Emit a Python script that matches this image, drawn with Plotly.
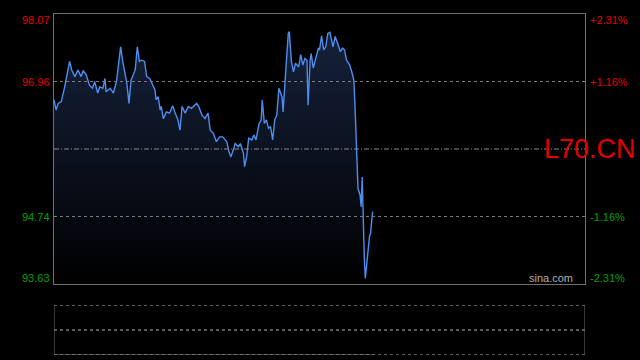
import plotly.graph_objects as go

# time in minutes since the open (full session = 510 minutes)
minutes = [0, 2, 4, 7, 10, 13, 15, 17, 20, 23, 26, 28, 31, 34, 37, 39, 42, 44, 47, 49,
           50, 54, 57, 60, 62, 64, 66, 70, 72, 74, 78, 80, 82, 84, 87, 89, 92, 95, 97, 98,
           100, 102, 103, 105, 108, 111, 114, 116, 119, 121, 123, 126, 129, 132, 135, 137, 139, 142, 145, 148,
           150, 153, 156, 159, 162, 166, 168, 170, 174, 177, 179, 182, 183, 185, 187, 190, 192, 194, 197, 199,
           200, 202, 204, 206, 208, 210, 212, 214, 216, 219, 220, 223, 225, 226, 228, 230, 232, 235, 237, 239,
           241, 243, 244, 246, 247, 249, 252, 254, 255, 257, 259, 261, 263, 265, 268, 270, 272, 275, 277, 279,
           281, 284, 286, 288, 289, 290, 291, 292, 294, 295, 296, 297, 298, 299, 301, 303, 304, 306]
prices = [96.66, 96.49, 96.60, 96.63, 96.85, 97.12, 97.29, 97.15, 97.04, 97.15, 97.04, 97.14, 97.07, 96.90, 96.85, 96.96, 96.77, 96.87, 96.85, 97.01,
          96.79, 96.85, 96.77, 96.96, 97.26, 97.53, 97.29, 96.93, 96.60, 96.98, 97.15, 97.53, 97.29, 97.31, 97.29, 97.04, 97.01, 96.90, 96.82, 96.66,
          96.71, 96.49, 96.55, 96.35, 96.46, 96.44, 96.56, 96.46, 96.33, 96.16, 96.55, 96.44, 96.55, 96.52, 96.57, 96.60, 96.55, 96.41, 96.35, 96.44,
          96.16, 96.11, 95.97, 96.05, 96.05, 95.97, 95.81, 95.72, 95.94, 95.89, 95.94, 95.78, 95.56, 95.72, 96.03, 96.00, 96.08, 96.00, 96.27, 96.33,
          96.66, 96.27, 96.33, 96.19, 96.22, 96.00, 96.33, 96.41, 96.85, 96.71, 96.46, 97.34, 97.75, 97.78, 97.29, 97.12, 97.26, 97.20, 97.40, 97.23,
          97.34, 97.31, 96.57, 97.31, 97.42, 97.18, 97.37, 97.51, 97.48, 97.71, 97.48, 97.53, 97.75, 97.77, 97.53, 97.70, 97.61, 97.45, 97.51, 97.48,
          97.31, 97.23, 97.12, 96.98, 96.60, 96.11, 95.56, 95.20, 95.09, 94.90, 95.39, 94.57, 94.08, 93.72, 94.13, 94.41, 94.46, 94.82]

session_len = 510
prev_close = 95.85
price_levels = [98.07, 96.96, 94.74, 93.63]
price_labels = ["98.07", "96.96", "94.74", "93.63"]
pct_labels = ["+2.31%", "+1.16%", "-1.16%", "-2.31%"]
label_colors = ["#e00000", "#e00000", "#00a000", "#00a000"]
label_shift = [-6, 0, 0, 6]
symbol = "L70.CN"

RED = "#e00000"
GRID = "#7a7a7a"
BORDER = "#707070"

fig = go.Figure()
fig.add_trace(go.Scatter(
    x=minutes, y=prices, mode="lines",
    line=dict(color="#4b8df0", width=1.4),
    fill="tozeroy",
    fillgradient=dict(type="vertical",
                      colorscale=[[0, "#000000"], [1, "#17243f"]],
                      start=price_levels[-1], stop=price_levels[0]),
    hoverinfo="skip", showlegend=False,
))
# empty lower (volume) panel
fig.add_trace(go.Scatter(x=[0, session_len], y=[0, 1], mode="none",
                         xaxis="x2", yaxis="y2", showlegend=False, hoverinfo="skip"))

main_bottom = 71 / 341
low_top = 50 / 341

fig.update_layout(
    width=640, height=360,
    margin=dict(l=54, r=55, t=14, b=5),
    paper_bgcolor="#000000", plot_bgcolor="#000000",
    xaxis=dict(range=[0, session_len], domain=[0, 1], anchor="y",
               showgrid=False, zeroline=False, showticklabels=False,
               showline=True, mirror=True, linecolor=BORDER, linewidth=1, ticks=""),
    yaxis=dict(range=[price_levels[-1], price_levels[0]], domain=[main_bottom, 1],
               showgrid=False, zeroline=False, showticklabels=False,
               showline=True, mirror=True, linecolor=BORDER, linewidth=1, ticks=""),
    xaxis2=dict(range=[0, session_len], domain=[0, 1], anchor="y2",
                showgrid=False, zeroline=False, showticklabels=False, showline=False),
    yaxis2=dict(range=[0, 1], domain=[0, low_top], anchor="x2",
                showgrid=False, zeroline=False, showticklabels=False, showline=False),
)

shapes = []
for lv in price_levels[1:3]:
    shapes.append(dict(type="line", xref="x", yref="y", x0=0, x1=session_len, y0=lv, y1=lv,
                       line=dict(color=GRID, width=1, dash="dot"), layer="above"))
shapes.append(dict(type="line", xref="x", yref="y", x0=0, x1=session_len, y0=prev_close, y1=prev_close,
                   line=dict(color="#8c8c8c", width=1, dash="5px,2px,1px,2px"), layer="above"))
# lower panel frame
for yy in [0, 0.5, 1]:
    shapes.append(dict(type="line", xref="x2", yref="y2", x0=0, x1=session_len, y0=yy, y1=yy,
                       line=dict(color=GRID, width=1.5, dash="dot")))
for xx in [0, session_len]:
    shapes.append(dict(type="line", xref="x2", yref="y2", x0=xx, x1=xx, y0=0, y1=1,
                       line=dict(color=BORDER, width=1)))
shapes.append(dict(type="line", xref="x2", yref="y2", x0=0, x1=minutes[-1], y0=0, y1=0,
                   line=dict(color="#8a8a8a", width=1)))
fig.update_layout(shapes=shapes)

ann = []
for lv, pl, pc, col, sh in zip(price_levels, price_labels, pct_labels, label_colors, label_shift):
    ann.append(dict(xref="paper", yref="y", x=0, y=lv, text=pl, showarrow=False,
                    xanchor="right", yanchor="middle", xshift=-2, yshift=sh,
                    font=dict(family="Liberation Sans, Arial", size=11, color=col)))
    ann.append(dict(xref="paper", yref="y", x=1, y=lv, text=pc, showarrow=False,
                    xanchor="left", yanchor="middle", xshift=3, yshift=sh,
                    font=dict(family="Liberation Sans, Arial", size=11, color=col)))
ann.append(dict(xref="paper", yref="y", x=1, y=prev_close, text=symbol, showarrow=False,
                xanchor="center", yanchor="middle", xshift=5, yshift=0,
                font=dict(family="Liberation Sans, Arial", size=27, color=RED)))
ann.append(dict(xref="paper", yref="y", x=1, y=price_levels[-1], text="sina.com", showarrow=False,
                xanchor="right", yanchor="bottom", xshift=-10, yshift=-2,
                font=dict(family="Liberation Sans, Arial", size=11, color="#b0b0b0")))
fig.update_layout(annotations=ann)

fig.write_html("out.html")
